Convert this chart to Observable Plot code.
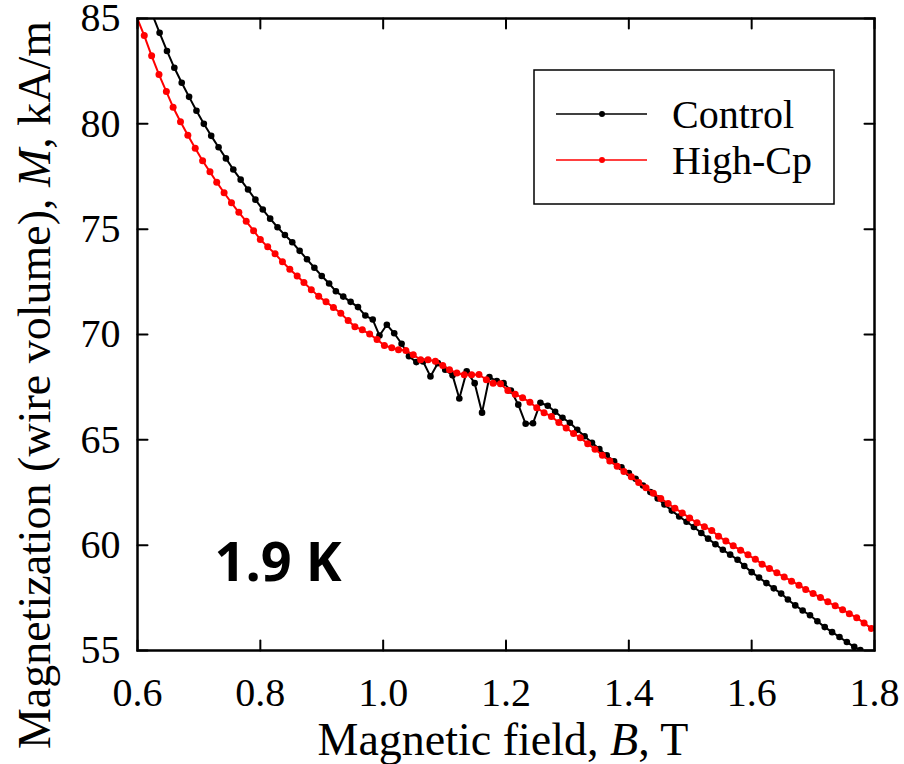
<!DOCTYPE html>
<html>
<head>
<meta charset="utf-8">
<script src="https://cdn.jsdelivr.net/npm/d3@7"></script>
<script src="https://cdn.jsdelivr.net/npm/@observablehq/plot@0.6"></script>
<style>
  html, body { margin: 0; padding: 0; background: white; }
</style>
</head>
<body>
<div id="chart"></div>
<script>
// ---- Data ----
const seriesNames = ["Control", "High-Cp"];
const seriesColors = ["#000000", "#ff0000"];

const controlB = [0.624, 0.636, 0.648, 0.660, 0.672, 0.684, 0.696, 0.708, 0.720, 0.732,
  0.744, 0.756, 0.768, 0.780, 0.792, 0.804, 0.816, 0.828, 0.840, 0.852,
  0.864, 0.876, 0.888, 0.900, 0.912, 0.923, 0.935, 0.947, 0.959, 0.971,
  0.983, 0.994, 1.006, 1.018, 1.030, 1.042, 1.054, 1.065, 1.077, 1.089,
  1.101, 1.113, 1.124, 1.136, 1.149, 1.161, 1.173, 1.185, 1.196, 1.208,
  1.220, 1.232, 1.244, 1.256, 1.268, 1.280, 1.292, 1.304, 1.316, 1.328,
  1.340, 1.352, 1.364, 1.376, 1.388, 1.400, 1.411, 1.423, 1.435, 1.447,
  1.458, 1.470, 1.482, 1.494, 1.506, 1.518, 1.529, 1.541, 1.553, 1.565,
  1.577, 1.588, 1.600, 1.612, 1.624, 1.636, 1.648, 1.659, 1.671, 1.683,
  1.695, 1.707, 1.719, 1.731, 1.743, 1.755, 1.767, 1.777];
const controlM = [85.20, 84.32, 83.46, 82.66, 81.95, 81.28, 80.62, 80.00, 79.43, 78.89,
  78.36, 77.83, 77.35, 76.88, 76.40, 75.93, 75.50, 75.09, 74.72, 74.38,
  73.97, 73.57, 73.17, 72.78, 72.42, 72.05, 71.80, 71.55, 71.30, 70.90,
  70.71, 69.95, 70.46, 70.06, 69.56, 68.97, 68.69, 68.72, 68.01, 68.64,
  68.33, 68.06, 66.96, 68.25, 67.69, 66.29, 67.98, 67.79, 67.69, 67.34,
  66.67, 65.76, 65.79, 66.76, 66.62, 66.33, 66.05, 65.81, 65.48, 65.17,
  64.86, 64.56, 64.26, 63.98, 63.70, 63.42, 63.15, 62.83, 62.52, 62.22,
  61.93, 61.64, 61.36, 61.11, 60.86, 60.58, 60.31, 60.04, 59.78, 59.55,
  59.31, 59.01, 58.72, 58.46, 58.20, 57.95, 57.70, 57.42, 57.14, 56.90,
  56.67, 56.39, 56.11, 55.87, 55.64, 55.40, 55.17, 55.02];

const highCpB = [0.599, 0.611, 0.623, 0.635, 0.647, 0.658, 0.670, 0.682, 0.694, 0.706,
  0.718, 0.729, 0.741, 0.753, 0.765, 0.777, 0.789, 0.800, 0.812, 0.824,
  0.836, 0.848, 0.860, 0.871, 0.883, 0.895, 0.907, 0.919, 0.931, 0.943,
  0.954, 0.966, 0.978, 0.990, 1.002, 1.014, 1.025, 1.037, 1.049, 1.061,
  1.073, 1.085, 1.097, 1.108, 1.120, 1.132, 1.144, 1.156, 1.168, 1.179,
  1.191, 1.203, 1.215, 1.227, 1.239, 1.250, 1.262, 1.274, 1.286, 1.298,
  1.310, 1.321, 1.333, 1.345, 1.357, 1.369, 1.381, 1.392, 1.404, 1.416,
  1.428, 1.440, 1.452, 1.464, 1.475, 1.487, 1.499, 1.511, 1.523, 1.535,
  1.546, 1.558, 1.570, 1.582, 1.594, 1.606, 1.617, 1.629, 1.641, 1.653,
  1.665, 1.677, 1.688, 1.700, 1.712, 1.724, 1.736, 1.748, 1.759, 1.771,
  1.783, 1.795];
const highCpM = [85.05, 84.19, 83.23, 82.34, 81.53, 80.79, 80.10, 79.46, 78.84, 78.25,
  77.72, 77.23, 76.73, 76.25, 75.80, 75.37, 74.93, 74.51, 74.16, 73.83,
  73.45, 73.10, 72.78, 72.47, 72.13, 71.81, 71.55, 71.28, 71.01, 70.66,
  70.37, 70.22, 70.02, 69.76, 69.48, 69.37, 69.28, 69.24, 69.04, 68.80,
  68.80, 68.73, 68.53, 68.33, 68.17, 68.09, 68.09, 68.10, 67.85, 67.69,
  67.66, 67.34, 67.16, 67.00, 66.78, 66.52, 66.29, 66.11, 65.82, 65.56,
  65.30, 65.10, 64.82, 64.55, 64.27, 64.00, 63.75, 63.50, 63.25, 62.98,
  62.72, 62.47, 62.22, 61.98, 61.75, 61.53, 61.29, 61.06, 60.88, 60.70,
  60.42, 60.20, 59.97, 59.76, 59.54, 59.33, 59.10, 58.89, 58.69, 58.49,
  58.29, 58.10, 57.90, 57.71, 57.51, 57.31, 57.12, 56.94, 56.75, 56.56,
  56.30, 56.05];

const xTicks = [0.6, 0.8, 1.0, 1.2, 1.4, 1.6, 1.8];
const yTicks = [55, 60, 65, 70, 75, 80, 85];
const xDomain = [0.6, 1.8];
const yDomain = [55, 85];
const tempLabel = "1.9 K";

// ---- Build tables ----
const control = controlB.map((b, i) => ({B: b, M: controlM[i], s: seriesNames[0]}));
const highCp = highCpB.map((b, i) => ({B: b, M: highCpM[i], s: seriesNames[1]}));

const serif = "'Liberation Serif', 'Times New Roman', Times, serif";
const tickShape = {draw(ctx, l) { ctx.moveTo(0, 0); ctx.lineTo(0, -l); }};
const tickOpts = {length: 10, anchor: "start", shape: tickShape, stroke: "black", strokeWidth: 2};

const chart = Plot.plot({
  width: 904,
  height: 764,
  marginLeft: 137,
  marginRight: 30,
  marginTop: 18,
  marginBottom: 114,
  style: {fontFamily: serif, fontSize: "40px", color: "black", background: "white", overflow: "visible"},
  x: {domain: xDomain, label: null},
  y: {domain: yDomain, label: null},
  marks: [
    Plot.line(control, {x: "B", y: "M", stroke: seriesColors[0], strokeWidth: 2, clip: true}),
    Plot.dot(control, {x: "B", y: "M", r: 3.3, fill: seriesColors[0], stroke: "none", clip: true}),
    Plot.line(highCp, {x: "B", y: "M", stroke: seriesColors[1], strokeWidth: 2, clip: true}),
    Plot.dot(highCp, {x: "B", y: "M", r: 3.5, fill: seriesColors[1], stroke: "none", clip: true}),
    Plot.axisX({ticks: xTicks, tickFormat: d => d.toFixed(1), tickSize: 0, tickPadding: 27,
      fontSize: 40, fontFamily: serif, fill: "black", label: null}),
    Plot.axisY({ticks: yTicks, tickFormat: d => String(d), tickSize: 0, tickPadding: 17,
      fontSize: 40, fontFamily: serif, fill: "black", label: null}),
    Plot.vector(xTicks, {x: d => d, frameAnchor: "bottom", rotate: 0, ...tickOpts}),
    Plot.vector(xTicks, {x: d => d, frameAnchor: "top", rotate: 180, ...tickOpts}),
    Plot.vector(yTicks, {y: d => d, frameAnchor: "left", rotate: 90, ...tickOpts}),
    Plot.vector(yTicks, {y: d => d, frameAnchor: "right", rotate: 270, ...tickOpts}),
    Plot.frame({stroke: "black", strokeWidth: 2.5}),
    Plot.text([tempLabel], {text: d => d, frameAnchor: "bottom-left", textAnchor: "start", lineAnchor: "bottom",
      dx: 77, dy: -70, fontSize: 54, fontWeight: "bold", fontFamily: "'Open Sans', 'Noto Sans', sans-serif", fill: "black"})
  ]
});

document.getElementById("chart").appendChild(chart);

// ---- Axis titles (with italic symbols) and legend ----
const svg = d3.select(chart);

// make sure tick labels use the serif face
svg.selectAll("g[aria-label='x-axis tick label'] text, g[aria-label='y-axis tick label'] text")
  .style("font-family", serif).style("font-size", "40px");

const xl = svg.append("text")
  .attr("x", 503).attr("y", 755)
  .attr("text-anchor", "middle")
  .style("font-family", serif).style("font-size", "46px").attr("fill", "black");
xl.append("tspan").text("Magnetic field, ");
xl.append("tspan").attr("font-style", "italic").text("B");
xl.append("tspan").text(", T");

const yl = svg.append("text")
  .attr("transform", "translate(50,385) rotate(-90)")
  .attr("text-anchor", "middle")
  .style("font-family", serif).style("font-size", "46px").attr("fill", "black");
yl.append("tspan").text("Magnetization (wire volume), ");
yl.append("tspan").attr("font-style", "italic").text("M");
yl.append("tspan").text(", kA/m");

const lg = svg.append("g");
lg.append("rect").attr("x", 534).attr("y", 70).attr("width", 300).attr("height", 134)
  .attr("fill", "white").attr("stroke", "black").attr("stroke-width", 1.5);
seriesNames.forEach((name, i) => {
  const yy = 114 + i * 46;
  lg.append("line").attr("x1", 556).attr("x2", 647).attr("y1", yy).attr("y2", yy)
    .attr("stroke", seriesColors[i]).attr("stroke-width", 1.5);
  lg.append("circle").attr("cx", 602).attr("cy", yy).attr("r", 3).attr("fill", seriesColors[i]);
  lg.append("text").attr("x", 672).attr("y", yy + 14)
    .attr("text-anchor", "start")
    .style("font-family", serif).style("font-size", "40px").attr("fill", "black").text(name);
});
</script>
</body>
</html>
